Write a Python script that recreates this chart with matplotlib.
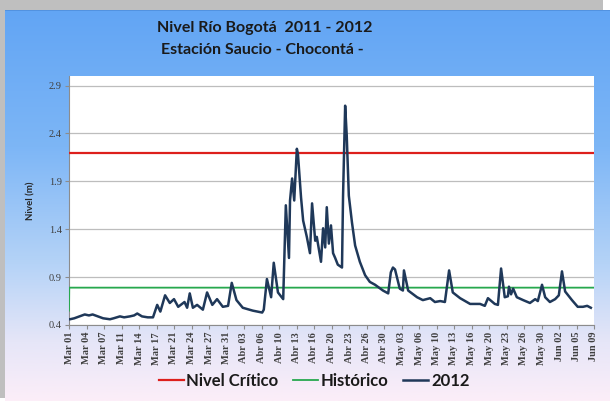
import numpy as np
import matplotlib
matplotlib.use("Agg")
import matplotlib.pyplot as plt
from matplotlib.colors import LinearSegmentedColormap
from matplotlib.patches import Rectangle

# ---------------------------------------------------------------
# Datos (días desde 01-Mar-2012, nivel en m)
# ---------------------------------------------------------------
dias = [0.0, 0.2, 1.0, 2.0, 3.0, 3.8, 4.5, 5.5, 6.5, 7.8,
        8.5, 9.7, 10.5, 11.6, 12.4, 13.0, 13.9, 15.0, 16.0, 16.8,
        17.4, 18.3, 19.2, 20.0, 20.8, 22.0, 22.5, 23.0, 23.6, 24.4,
        25.5, 26.3, 27.3, 28.2, 29.3, 30.3, 31.0, 31.9, 33.1, 35.0,
        36.8, 37.1, 37.7, 38.5, 39.0, 39.8, 40.8, 41.3, 41.9, 42.1,
        42.5, 42.9, 43.4, 43.6, 44.2, 44.6, 45.3, 45.9, 46.3, 46.9,
        47.2, 48.0, 48.4, 48.8, 49.1, 49.5, 49.9, 50.3, 50.7, 51.2,
        52.0, 52.2, 52.6, 52.9, 53.3, 53.9, 54.5, 55.4, 56.4, 57.3,
        58.3, 59.8, 60.8, 61.3, 61.7, 62.1, 63.0, 63.6, 63.8, 64.6,
        66.3, 67.4, 68.8, 69.7, 70.7, 71.6, 72.4, 73.1, 74.5, 76.4,
        78.3, 79.2, 79.8, 81.1, 81.7, 82.3, 83.0, 83.6, 83.8, 84.2,
        84.6, 85.3, 86.5, 87.8, 88.8, 89.3, 90.1, 90.7, 91.6, 92.6,
        93.3, 93.9, 94.5, 95.8, 96.9, 97.9, 98.7, 99.4]
nivel_2012 = [0.46, 0.46, 0.47, 0.49, 0.51, 0.50, 0.51, 0.49, 0.47, 0.46,
              0.47, 0.49, 0.48, 0.49, 0.50, 0.52, 0.49, 0.48, 0.48, 0.61,
              0.54, 0.71, 0.63, 0.67, 0.59, 0.64, 0.58, 0.73, 0.58, 0.61,
              0.56, 0.74, 0.61, 0.67, 0.59, 0.60, 0.84, 0.66, 0.58, 0.55,
              0.53, 0.56, 0.88, 0.69, 1.05, 0.74, 0.67, 1.65, 1.10, 1.70,
              1.93, 1.70, 2.24, 2.19, 1.73, 1.49, 1.32, 1.15, 1.67, 1.28,
              1.32, 1.06, 1.41, 1.21, 1.63, 1.25, 1.44, 1.15, 1.10, 1.03,
              1.00, 1.75, 2.69, 2.38, 1.75, 1.47, 1.23, 1.06, 0.92, 0.85,
              0.82, 0.76, 0.73, 0.95, 1.00, 0.98, 0.78, 0.76, 0.97, 0.76,
              0.69, 0.66, 0.68, 0.64, 0.65, 0.64, 0.97, 0.74, 0.68, 0.62,
              0.62, 0.60, 0.68, 0.62, 0.61, 0.99, 0.69, 0.70, 0.80, 0.72,
              0.78, 0.69, 0.66, 0.63, 0.67, 0.65, 0.82, 0.69, 0.64, 0.67,
              0.71, 0.96, 0.75, 0.66, 0.59, 0.59, 0.60, 0.58]

dias_hist = [0.0, 0.05, 100.0]
nivel_hist = [0.55, 0.79, 0.79]

dias_crit = [0.0, 100.0]
nivel_crit = [2.2, 2.2]

etiquetas_x = ["Mar 01", "Mar 04", "Mar 07", "Mar 11", "Mar 14", "Mar 17",
               "Mar 21", "Mar 24", "Mar 27", "Mar 31", "Abr 03", "Abr 06",
               "Abr 10", "Abr 13", "Abr 16", "Abr 20", "Abr 23", "Abr 26",
               "Abr 30", "May 03", "May 06", "May 10", "May 13", "May 16",
               "May 20", "May 23", "May 26", "May 30", "Jun 02", "Jun 05",
               "Jun 09"]
ticks_y = [0.4, 0.9, 1.4, 1.9, 2.4, 2.9]

# Colores
C_ROJO = "#DD1F1C"
C_VERDE = "#27A84E"
C_NAVY = "#1F3859"
C_GRIS = "#BFBFBF"

W, H = 610, 401
fig = plt.figure(figsize=(W / 100, H / 100), dpi=100, facecolor="white")

# ---------------------------------------------------------------
# Marco gris y panel con degradado
# ---------------------------------------------------------------
fig.patches.append(Rectangle((0, 3 / H), 603 / W, 1 - 3 / H,
                             transform=fig.transFigure, facecolor=C_GRIS,
                             edgecolor="none", zorder=-10))
bg = fig.add_axes([5 / W, 0, 1 - 5 / W, 1 - 10 / H], zorder=-5)
cmap = LinearSegmentedColormap.from_list(
    "fondo", [(0.0, "#62A5F4"), (0.35, "#7DB6F6"), (0.65, "#B5D3F7"),
              (0.85, "#E6E6F8"), (1.0, "#FCEEF8")])
bg.imshow(np.linspace(0, 1, 256).reshape(-1, 1), aspect="auto", cmap=cmap,
          extent=[0, 1, 0, 1], origin="upper")
bg.set_xlim(0, 1)
bg.set_ylim(0, 1)
bg.axis("off")
bg.axhline(1, color="#4F8FDC", lw=1.2)

# ---------------------------------------------------------------
# Área de gráfico
# ---------------------------------------------------------------
ax = fig.add_axes([69 / W, 1 - 325 / H, 525 / W, 249 / H])
ax.set_facecolor("white")

ax.plot(dias_crit, nivel_crit, color=C_ROJO, lw=1.6, label="Nivel Crítico",
        zorder=3)
ax.plot(dias_hist, nivel_hist, color=C_VERDE, lw=1.3, label="Histórico",
        zorder=3)
ax.plot(dias, nivel_2012, color=C_NAVY, lw=1.8, label="2012", zorder=4,
        solid_joinstyle="round")

ax.set_xlim(0, 100)
ax.set_ylim(0.4, 3.0)
ax.set_yticks(ticks_y)
ax.set_yticklabels([f"{v:.1f}" for v in ticks_y], family="Liberation Serif",
                   fontsize=7.5, color="#404040")
ax.set_xticks(np.arange(len(etiquetas_x)) * 10 / 3)
ax.set_xticklabels(etiquetas_x, rotation=90, family="Liberation Serif",
                   fontweight="bold", fontsize=7.5, color="#404040")
ax.tick_params(axis="both", length=3, color="#8C8C8C", pad=2)
ax.grid(axis="y", color="#BDBDBD", lw=0.9)
ax.set_axisbelow(True)
for s in ["top", "right"]:
    ax.spines[s].set_visible(False)
for s in ["left", "bottom"]:
    ax.spines[s].set_color("#8C8C8C")
    ax.spines[s].set_linewidth(0.8)

ax.set_ylabel("Nivel (m)", family="Lato", fontweight="bold", fontsize=7,
              color="#262626", labelpad=10)

# Título
fig.text(265 / W, 1 - 28 / H, "Nivel Río Bogotá  2011 - 2012", ha="center",
         va="center", family="Lato", fontweight="bold", fontsize=11.5,
         color="#1A1A1A")
fig.text(262 / W, 1 - 50 / H, "Estación Saucio - Chocontá -", ha="center",
         va="center", family="Lato", fontweight="bold", fontsize=11.5,
         color="#1A1A1A")

# Leyenda
fig.legend(loc="center", bbox_to_anchor=(314 / W, 1 - 381 / H), ncol=3,
           frameon=False, prop={"family": "Lato", "weight": "bold",
                                "size": 12},
           handlelength=1.5, handletextpad=0.15, columnspacing=0.9,
           labelcolor="#1A1A1A")

fig.savefig("out.png", dpi=100, facecolor=fig.get_facecolor())
